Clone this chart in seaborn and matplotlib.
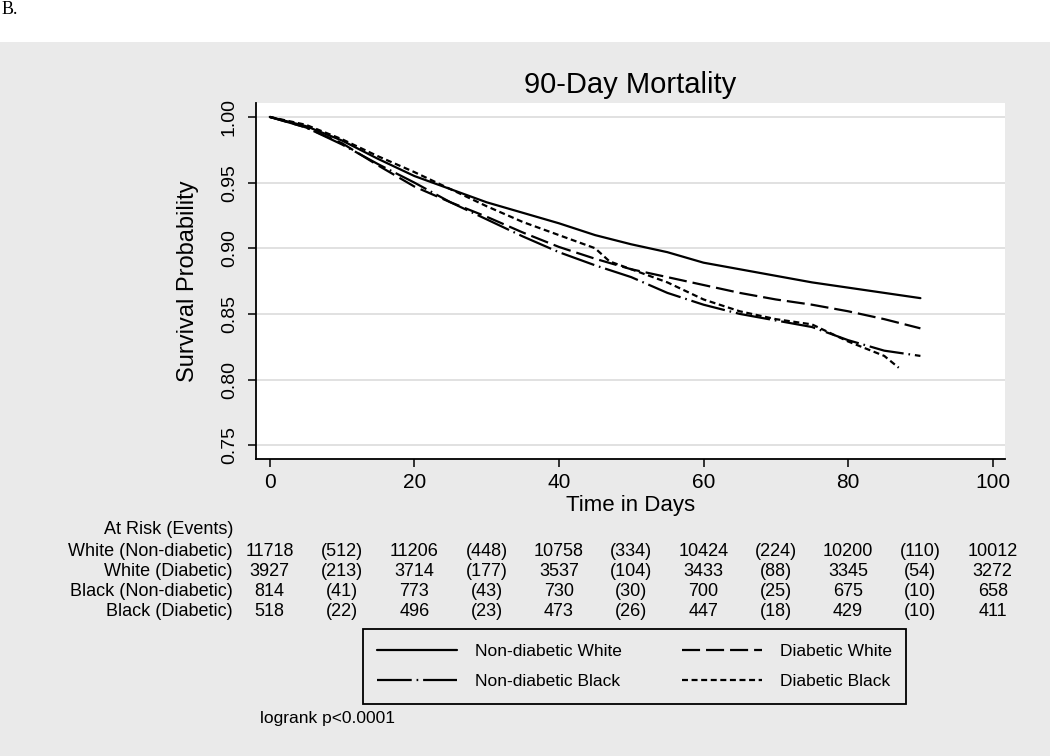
import matplotlib
matplotlib.use('Agg')
import numpy as np
import pandas as pd
import seaborn as sns
import matplotlib.pyplot as plt
import matplotlib.transforms as mtransforms
from matplotlib.lines import Line2D
from matplotlib.patches import Rectangle

# survival curves
days = [0, 5, 10, 15, 20, 25, 30, 35, 40, 45, 50, 55, 60, 65, 70, 75, 80, 85, 90]
surv_nd_white = [1.000, 0.993, 0.982, 0.968, 0.955, 0.945, 0.935, 0.927, 0.919, 0.910,
                 0.903, 0.897, 0.889, 0.884, 0.879, 0.874, 0.870, 0.866, 0.862]
surv_d_white = [1.000, 0.992, 0.980, 0.963, 0.947, 0.935, 0.924, 0.912, 0.901, 0.892,
                0.884, 0.878, 0.872, 0.866, 0.861, 0.857, 0.852, 0.846, 0.839]
surv_nd_black = [1.000, 0.992, 0.979, 0.964, 0.950, 0.935, 0.922, 0.909, 0.897, 0.887,
                 0.878, 0.866, 0.857, 0.850, 0.845, 0.840, 0.830, 0.822, 0.818]
days_d_black = [0, 5, 10, 15, 20, 25, 30, 35, 40, 45, 47, 50, 55, 60, 65, 70, 75, 80, 85, 87]
surv_d_black = [1.000, 0.994, 0.983, 0.970, 0.958, 0.945, 0.932, 0.920, 0.910, 0.900, 0.890,
                0.884, 0.874, 0.861, 0.852, 0.846, 0.842, 0.829, 0.818, 0.809]

groups = ["Non-diabetic White", "Non-diabetic Black", "Diabetic White", "Diabetic Black"]

# at risk table
risk_labels = ["White (Non-diabetic)", "White (Diabetic)", "Black (Non-diabetic)", "Black (Diabetic)"]
risk_days = [0, 20, 40, 60, 80, 100]
event_days = [10, 30, 50, 70, 90]
risk_nd_white = [11718, 11206, 10758, 10424, 10200, 10012]
events_nd_white = [512, 448, 334, 224, 110]
risk_d_white = [3927, 3714, 3537, 3433, 3345, 3272]
events_d_white = [213, 177, 104, 88, 54]
risk_nd_black = [814, 773, 730, 700, 675, 658]
events_nd_black = [41, 43, 30, 25, 10]
risk_d_black = [518, 496, 473, 447, 429, 411]
events_d_black = [22, 23, 26, 18, 10]

df = pd.concat([
    pd.DataFrame({"day": days, "surv": surv_nd_white, "group": groups[0]}),
    pd.DataFrame({"day": days, "surv": surv_nd_black, "group": groups[1]}),
    pd.DataFrame({"day": days, "surv": surv_d_white, "group": groups[2]}),
    pd.DataFrame({"day": days_d_black, "surv": surv_d_black, "group": groups[3]}),
])

dash_map = {
    groups[0]: "",
    groups[1]: (25, 3.5, 1.2, 3.5),
    groups[2]: (13, 4.3),
    groups[3]: (4.3, 2.6),
}

sns.set_style("white")
plt.rcParams['font.family'] = ['Liberation Sans', 'DejaVu Sans']
plt.rcParams['lines.scale_dashes'] = False
for k in ['text.color', 'axes.labelcolor', 'xtick.color', 'ytick.color']:
    plt.rcParams[k] = 'black'

grey = '#eaeaea'
fig = plt.figure(figsize=(10.5, 7.56), dpi=100, facecolor='white')
fig.patches.append(Rectangle((0, 0), 1, 1 - 42 / 756, transform=fig.transFigure,
                             facecolor=grey, edgecolor='none', zorder=-10))

ax = fig.add_axes([256 / 1050, 1 - 459 / 756, (1005 - 256) / 1050, (459 - 103) / 756])
ax.set_facecolor('white')

sns.lineplot(data=df, x="day", y="surv", style="group", style_order=groups,
             dashes=dash_map, color='black', linewidth=1.6, estimator=None,
             sort=False, legend=False, ax=ax)

ax.set_xlim(-1.9, 101.7)
ax.set_ylim(0.7395, 1.0106)
ax.set_xticks([0, 20, 40, 60, 80, 100])
ax.set_yticks([0.75, 0.80, 0.85, 0.90, 0.95, 1.00])
ax.set_yticklabels(["0.75", "0.80", "0.85", "0.90", "0.95", "1.00"])
ax.grid(axis='y', color='#dedede', linewidth=1.3)
ax.set_axisbelow(True)
for s in ['top', 'right']:
    ax.spines[s].set_visible(False)
for s in ['left', 'bottom']:
    ax.spines[s].set_color('black')
    ax.spines[s].set_linewidth(1.3)
ax.tick_params(axis='both', direction='out', length=6, width=1.1, color='black',
               labelsize=15, pad=4, left=True, bottom=True)
ax.tick_params(axis='y', labelrotation=90, labelsize=14, pad=7)
for lab in ax.get_yticklabels():
    lab.set_va('center')

ax.set_xlabel("Time in Days", fontsize=16)
ax.set_ylabel("Survival Probability", fontsize=17)
ax.xaxis.set_label_coords(0.5, -0.1)
ax.yaxis.set_label_coords(-0.076, 0.5)

fig.text(630.5 / 1050, 1 - 85 / 756, "90-Day Mortality", ha='center', va='center', fontsize=21)
fig.text(2 / 1050, 1 - 10 / 756, "B.", ha='left', va='center', fontsize=13,
         family=['Liberation Serif', 'DejaVu Serif'])

# at risk table
trans = mtransforms.blended_transform_factory(ax.transData, fig.transFigure)
fig.text(233 / 1050, 1 - 529 / 756, "At Risk (Events)", ha='right', va='center', fontsize=13)
row_y = [552, 572, 591, 611]
risk_rows = [risk_nd_white, risk_d_white, risk_nd_black, risk_d_black]
event_rows = [events_nd_white, events_d_white, events_nd_black, events_d_black]
for lab, yy, rr, ee in zip(risk_labels, row_y, risk_rows, event_rows):
    fig.text(233 / 1050, 1 - yy / 756, lab, ha='right', va='center', fontsize=13)
    for d, v in zip(risk_days, rr):
        ax.text(d, 1 - yy / 756, str(v), transform=trans, ha='center', va='center', fontsize=13)
    for d, v in zip(event_days, ee):
        ax.text(d, 1 - yy / 756, f"({v})", transform=trans, ha='center', va='center', fontsize=13)

handles = [Line2D([], [], color='black', linewidth=1.6,
                  linestyle='-' if dash_map[g] == "" else (0, dash_map[g])) for g in groups]
leg = fig.legend(handles, groups, loc='center', bbox_to_anchor=(634.5 / 1050, 1 - 666.5 / 756),
                 bbox_transform=fig.transFigure, ncol=2, fontsize=12.5, frameon=True,
                 fancybox=False, facecolor=grey, edgecolor='black', framealpha=1,
                 handlelength=4.6, handletextpad=1.0, columnspacing=3.5,
                 labelspacing=0.85, borderpad=0.85)
leg.get_frame().set_linewidth(1.3)

fig.text(260 / 1050, 1 - 718 / 756, "logrank p<0.0001", ha='left', va='center', fontsize=12.5)

fig.savefig("out.png", dpi=100, facecolor='white')
